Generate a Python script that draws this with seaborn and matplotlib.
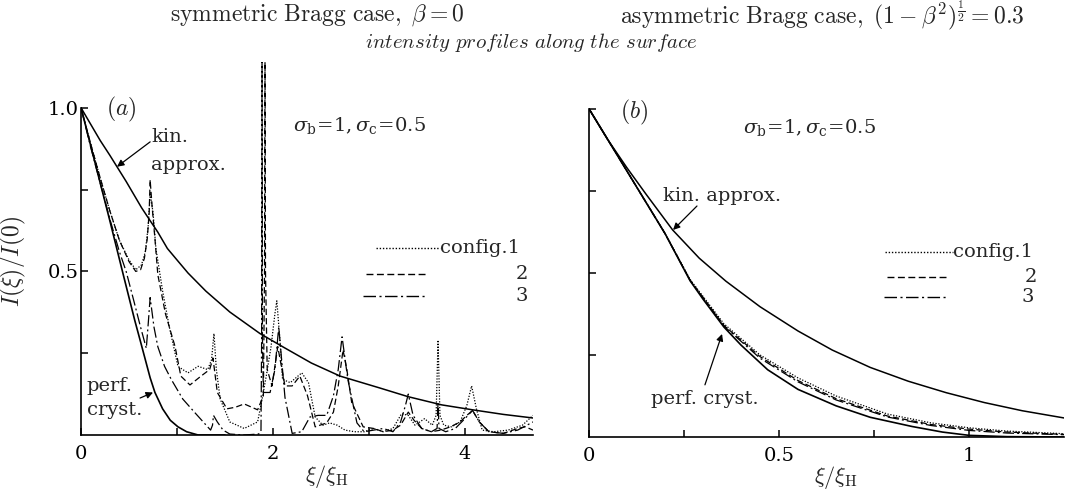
import matplotlib
matplotlib.use("Agg")
import matplotlib.pyplot as plt
from matplotlib.lines import Line2D
import seaborn as sns
import pandas as pd

# ---------------- panel (a): symmetric Bragg case ----------------
xi_kin_a = [0, 0.1, 0.2, 0.3, 0.385, 0.47, 0.55, 0.63, 0.72, 0.8, 0.9, 1.0, 1.115, 1.3,
            1.55, 1.865, 2.1, 2.4, 2.7, 3.11, 3.41, 3.76, 4.08, 4.4, 4.71]
kin_a = [1.0, 0.95, 0.9, 0.855, 0.815, 0.775, 0.735, 0.695, 0.655, 0.62, 0.57, 0.535, 0.495, 0.44,
         0.376, 0.31, 0.27, 0.22, 0.18, 0.144, 0.117, 0.092, 0.077, 0.063, 0.052]

xi_perf_a = [0, 0.1, 0.2, 0.3, 0.44, 0.5, 0.56, 0.62, 0.67, 0.72, 0.77, 0.85, 0.93, 1.01,
             1.1, 1.22, 1.5]
perf_a = [1.0, 0.885, 0.77, 0.655, 0.49, 0.42, 0.35, 0.285, 0.23, 0.175, 0.13, 0.08, 0.045, 0.025,
          0.01, 0.0, 0.0]

xi_c1_a = [0, 0.1, 0.2, 0.3, 0.4, 0.5, 0.57, 0.63, 0.67, 0.7, 0.72, 0.75, 0.78, 0.85, 0.92,
           1.01, 1.06, 1.115, 1.22, 1.32, 1.36, 1.385, 1.41, 1.45, 1.55, 1.70, 1.84, 1.885,
           1.93, 1.98, 2.02, 2.04, 2.07, 2.10, 2.18, 2.30, 2.37, 2.44, 2.52, 2.59, 2.67, 2.75,
           2.85, 2.95, 3.05, 3.15, 3.25, 3.34, 3.41, 3.48, 3.58, 3.66, 3.70, 3.72, 3.74, 3.78,
           3.86, 3.95, 4.02, 4.07, 4.12, 4.18, 4.3, 4.45, 4.6, 4.71]
c1_a = [1.0, 0.89, 0.785, 0.685, 0.595, 0.535, 0.505, 0.52, 0.56, 0.64, 0.74, 0.68, 0.57, 0.44, 0.33,
        0.21, 0.2, 0.19, 0.21, 0.2, 0.23, 0.31, 0.2, 0.11, 0.04, 0.02, 0.04, 0.107,
        0.18, 0.27, 0.37, 0.41, 0.3, 0.17, 0.16, 0.19, 0.16, 0.055, 0.03, 0.037, 0.03, 0.015,
        0.01, 0.01, 0.02, 0.01, 0.02, 0.065, 0.06, 0.03, 0.05, 0.03, 0.06, 0.29, 0.06, 0.03,
        0.025, 0.04, 0.09, 0.15, 0.08, 0.015, 0.01, 0.015, 0.03, 0.06]

xi_c2_a = [0, 0.1, 0.2, 0.3, 0.4, 0.5, 0.57, 0.62, 0.66, 0.69, 0.71, 0.72, 0.74, 0.77, 0.80,
           0.88, 0.98, 1.04, 1.135, 1.25, 1.34, 1.375, 1.42, 1.52, 1.61, 1.70, 1.84, 1.90,
           1.912, 1.917, 1.922, 1.94, 1.99, 2.05, 2.125, 2.2, 2.28, 2.36, 2.44, 2.56, 2.63,
           2.68, 2.73, 2.77, 2.82, 2.94, 3.05, 3.15, 3.25, 3.33, 3.41, 3.47, 3.55, 3.65, 3.75,
           3.85, 3.95, 4.02, 4.08, 4.15, 4.25, 4.4, 4.55, 4.63, 4.71]
c2_a = [1.0, 0.89, 0.785, 0.685, 0.595, 0.53, 0.5, 0.505, 0.54, 0.6, 0.68, 0.78, 0.7, 0.6, 0.49,
        0.37, 0.27, 0.18, 0.153, 0.18, 0.2, 0.235, 0.13, 0.08, 0.085, 0.095, 0.077, 0.12,
        0.5, 1.14, 0.5, 0.2, 0.15, 0.27, 0.15, 0.15, 0.18, 0.12, 0.025, 0.037, 0.07,
        0.15, 0.26, 0.2, 0.1, 0.025, 0.02, 0.01, 0.015, 0.03, 0.07, 0.045, 0.02, 0.01, 0.015,
        0.025, 0.04, 0.06, 0.075, 0.04, 0.01, 0.005, 0.02, 0.025, 0.015]

xi_c3_a = [0, 0.1, 0.2, 0.3, 0.4, 0.47, 0.55, 0.62, 0.68, 0.70, 0.72, 0.76, 0.80, 0.87, 0.94,
           1.06, 1.19, 1.35, 1.37, 1.38, 1.42, 1.48, 1.55, 1.7, 1.85, 1.875, 1.882, 1.886,
           1.890, 1.90, 1.97, 2.02, 2.06, 2.125, 2.2, 2.3, 2.385, 2.47, 2.56, 2.63, 2.68, 2.72,
           2.78, 2.875, 2.95, 3.05, 3.15, 3.25, 3.33, 3.38, 3.41, 3.46, 3.55, 3.65, 3.71, 3.72,
           3.73, 3.8, 3.9, 4.0, 4.08, 4.15, 4.25, 4.4, 4.55, 4.71]
c3_a = [1.0, 0.88, 0.77, 0.66, 0.56, 0.5, 0.41, 0.33, 0.265, 0.34, 0.42, 0.33, 0.27, 0.21, 0.17,
        0.11, 0.067, 0.015, 0.03, 0.06, 0.04, 0.015, 0.003, 0.0, 0.003, 0.01, 0.3, 1.14,
        0.3, 0.13, 0.13, 0.2, 0.33, 0.115, 0.005, 0.01, 0.055, 0.06, 0.06, 0.12, 0.2, 0.30,
        0.17, 0.037, 0.01, 0.015, 0.02, 0.01, 0.04, 0.09, 0.125, 0.06, 0.02, 0.01, 0.02, 0.1,
        0.02, 0.01, 0.02, 0.05, 0.075, 0.04, 0.01, 0.005, 0.015, 0.04]

# ---------------- panel (b): asymmetric Bragg case ----------------
xi_kin_b = [0, 0.05, 0.1, 0.15, 0.22, 0.29, 0.36, 0.45, 0.55, 0.64, 0.74, 0.84, 0.94, 1.04,
            1.14, 1.25]
kin_b = [1.0, 0.905, 0.82, 0.74, 0.631, 0.545, 0.475, 0.397, 0.323, 0.265, 0.212, 0.17, 0.135,
         0.105, 0.08, 0.058]

xi_perf_b = [0, 0.05, 0.1, 0.15, 0.2, 0.266, 0.3, 0.355, 0.4, 0.47, 0.55, 0.65, 0.74, 0.85,
             0.93, 1.0, 1.1, 1.25]
perf_b = [1.0, 0.905, 0.81, 0.715, 0.62, 0.476, 0.42, 0.335, 0.28, 0.205, 0.145, 0.095, 0.06,
          0.032, 0.015, 0.005, 0.001, 0.0]

xi_cfg_b = [0, 0.1, 0.2, 0.266, 0.355, 0.45, 0.55, 0.65, 0.785, 0.9, 1.0, 1.1, 1.25]
c1_b = [1.0, 0.81, 0.62, 0.48, 0.345, 0.25, 0.18, 0.125, 0.07, 0.043, 0.028, 0.018, 0.01]
c2_b = [1.0, 0.81, 0.62, 0.478, 0.34, 0.245, 0.172, 0.117, 0.064, 0.038, 0.024, 0.015, 0.008]
c3_b = [1.0, 0.81, 0.62, 0.477, 0.338, 0.24, 0.168, 0.113, 0.061, 0.035, 0.02, 0.012, 0.007]

config_labels = ["config.1", "2", "3"]

# ---------------- styling ----------------
sns.set_style("ticks")
plt.rcParams.update({
    "font.family": ["DejaVu Serif"],
    "mathtext.fontset": "cm",
    "axes.linewidth": 1.2,
    "xtick.direction": "in",
    "ytick.direction": "in",
    "xtick.major.size": 5,
    "ytick.major.size": 5,
    "xtick.major.width": 1.1,
    "ytick.major.width": 1.1,
    "xtick.color": "black",
    "ytick.color": "black",
    "axes.edgecolor": "black",
})

LS = {
    "solid": "-",
    "c1": (0, (1, 1.3)),
    "c2": (0, (5, 2.5)),
    "c3": (0, (9, 2.5, 1.5, 2.5)),
}


def curve(ax, x, y, ls, lw=1.0):
    df = pd.DataFrame({"x": x, "y": y})
    sns.lineplot(data=df, x="x", y="y", ax=ax, color="black", lw=lw,
                 linestyle=ls, estimator=None, sort=False, legend=False)


def key(ax, x0, x1, yk, ls, label, tx, ha):
    ax.add_line(Line2D([x0, x1], [yk, yk], color="black", lw=1.0, linestyle=ls))
    ax.text(tx, yk, label, ha=ha, va="center", fontsize=14)


fig = plt.figure(figsize=(10.65, 4.95), dpi=100)
ax_a = fig.add_axes([0.0761, 0.1212, 0.4244, 0.7535])
ax_b = fig.add_axes([0.5531, 0.1172, 0.4460, 0.7556])

# panel (a)
curve(ax_a, xi_kin_a, kin_a, LS["solid"], 1.1)
curve(ax_a, xi_perf_a, perf_a, LS["solid"], 1.2)
curve(ax_a, xi_c1_a, c1_a, LS["c1"], 0.9)
curve(ax_a, xi_c2_a, c2_a, LS["c2"], 0.9)
curve(ax_a, xi_c3_a, c3_a, LS["c3"], 0.9)

ax_a.set_xlim(0, 4.71)
ax_a.set_ylim(0, 1.14)
ax_a.set_xticks([0, 1, 2, 3, 4])
ax_a.set_xticklabels(["0", "", "2", "", "4"])
ax_a.set_yticks([0.25, 0.5, 0.75, 1.0])
ax_a.set_yticklabels(["", "0.5", "", "1.0"])

ax_a.text(0.42, 0.994, r"$(a)$", fontsize=17, ha="center", va="center")
ax_a.text(0.73, 0.91, "kin.", fontsize=14, ha="left", va="center")
ax_a.text(0.73, 0.825, "approx.", fontsize=14, ha="left", va="center")
ax_a.annotate("", xy=(0.375, 0.82), xytext=(0.72, 0.896),
              arrowprops=dict(arrowstyle="-|>", color="black", lw=0.9,
                              mutation_scale=10, shrinkA=0, shrinkB=0))
ax_a.text(0.06, 0.15, "perf.", fontsize=14, ha="left", va="center")
ax_a.text(0.06, 0.076, "cryst.", fontsize=14, ha="left", va="center")
ax_a.annotate("", xy=(0.75, 0.13), xytext=(0.615, 0.113),
              arrowprops=dict(arrowstyle="-|>", color="black", lw=0.9,
                              mutation_scale=10, shrinkA=0, shrinkB=0))
ax_a.text(2.9, 0.945, r"$\sigma_{\rm b}\!=\!1,\sigma_{\rm c}\!=\!0.5$", fontsize=14,
          ha="center", va="center", math_fontfamily="dejavuserif")
key(ax_a, 3.07, 3.74, 0.572, LS["c1"], config_labels[0], 3.74, "left")
key(ax_a, 2.97, 3.60, 0.492, LS["c2"], config_labels[1], 4.66, "right")
key(ax_a, 2.94, 3.60, 0.425, LS["c3"], config_labels[2], 4.66, "right")

# panel (b)
curve(ax_b, xi_kin_b, kin_b, LS["solid"], 1.1)
curve(ax_b, xi_perf_b, perf_b, LS["solid"], 1.2)
curve(ax_b, xi_cfg_b, c1_b, LS["c1"], 0.9)
curve(ax_b, xi_cfg_b, c2_b, LS["c2"], 0.9)
curve(ax_b, xi_cfg_b, c3_b, LS["c3"], 0.9)

ax_b.set_xlim(0, 1.25)
ax_b.set_ylim(0, 1.14)
ax_b.set_xticks([0, 0.25, 0.5, 0.75, 1.0])
ax_b.set_xticklabels(["0", "", "0.5", "", "1"])
ax_b.set_yticks([0.25, 0.5, 0.75, 1.0])
ax_b.set_yticklabels(["", "", "", ""])

ax_b.text(0.118, 0.988, r"$(b)$", fontsize=17, ha="center", va="center")
ax_b.text(0.58, 0.942, r"$\sigma_{\rm b}\!=\!1,\sigma_{\rm c}\!=\!0.5$", fontsize=14,
          ha="center", va="center", math_fontfamily="dejavuserif")
ax_b.text(0.195, 0.735, "kin. approx.", fontsize=14, ha="left", va="center")
ax_b.annotate("", xy=(0.221, 0.631), xytext=(0.284, 0.704),
              arrowprops=dict(arrowstyle="-|>", color="black", lw=0.9,
                              mutation_scale=10, shrinkA=0, shrinkB=0))
ax_b.text(0.163, 0.116, "perf. cryst.", fontsize=14, ha="left", va="center")
ax_b.annotate("", xy=(0.35, 0.314), xytext=(0.305, 0.159),
              arrowprops=dict(arrowstyle="-|>", color="black", lw=0.9,
                              mutation_scale=10, shrinkA=0, shrinkB=0))
key(ax_b, 0.78, 0.958, 0.564, LS["c1"], config_labels[0], 0.958, "left")
key(ax_b, 0.784, 0.94, 0.488, LS["c2"], config_labels[1], 1.18, "right")
key(ax_b, 0.776, 0.94, 0.427, LS["c3"], config_labels[2], 1.17, "right")

for ax in (ax_a, ax_b):
    sns.despine(ax=ax)
    ax.spines["left"].set_bounds(0, 1.0)
    ax.tick_params(axis="x", labelsize=14, pad=7)
    ax.tick_params(axis="y", labelsize=14, pad=2)
    ax.set_xlabel(r"$\xi/\xi_{\rm H}$", fontsize=16)
    ax.set_ylabel("")

ax_a.xaxis.set_label_coords(0.544, -0.075)
ax_b.xaxis.set_label_coords(0.52, -0.072)
ax_a.set_ylabel(r"$I(\xi)/I(0)$", fontsize=17)
ax_a.yaxis.set_label_coords(-0.118, 0.464)

fig.text(317 / 1065, 1 - 15 / 495, r"$\mathrm{symmetric\ Bragg\ case,}\ \beta = 0$",
         fontsize=17, ha="center", va="center")
fig.text(822 / 1065, 1 - 15 / 495,
         r"$\mathrm{asymmetric\ Bragg\ case,}\ (1-\beta^2)^{\frac{1}{2}} = 0.3$",
         fontsize=17, ha="center", va="center")
fig.text(531 / 1065, 1 - 42 / 495, r"$\mathit{intensity\ profiles\ along\ the\ surface}$",
         fontsize=15, ha="center", va="center")

fig.savefig("out.png", dpi=100)
